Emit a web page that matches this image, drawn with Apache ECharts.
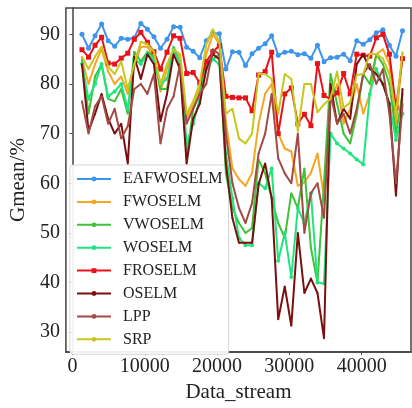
<!DOCTYPE html>
<html><head><meta charset="utf-8">
<script src="https://cdn.jsdelivr.net/npm/echarts@6/dist/echarts.min.js"></script>
<style>html,body{margin:0;padding:0;background:#fff}#c{width:412px;height:408px}</style>
</head><body><div id="c"></div>
<script>
const xs = [1310, 2215, 3120, 4025, 4930, 5835, 6740, 7645, 8550, 9455, 10360, 11265, 12170, 13075, 13980, 14885, 15790, 16695, 17600, 18505, 19410, 20315, 21220, 22125, 23030, 23935, 24840, 25745, 26650, 27555, 28460, 29365, 30270, 31175, 32080, 32985, 33890, 34795, 35700, 36605, 37510, 38415, 39320, 40225, 41130, 42035, 42940, 43845, 44750, 45655];
const seriesNames = ["EAFWOSELM", "FWOSELM", "VWOSELM", "WOSELM", "FROSELM", "OSELM", "LPP", "SRP"];
const EAFWOSELM = [90.0, 87.2, 89.7, 92.1, 88.7, 87.6, 89.2, 89.0, 89.3, 92.2, 91.0, 89.5, 87.2, 89.0, 91.5, 91.4, 87.4, 86.6, 85.3, 88.7, 90.3, 90.1, 83.0, 86.5, 86.4, 83.7, 86.1, 87.2, 88.1, 89.7, 85.8, 86.4, 86.6, 85.9, 86.1, 85.2, 87.8, 84.5, 85.3, 85.4, 86.0, 84.7, 88.7, 88.0, 88.9, 90.3, 90.9, 87.8, 85.6, 90.7];
const FWOSELM = [85.0, 80.0, 84.0, 87.0, 82.5, 80.0, 81.5, 78.0, 83.5, 87.5, 87.5, 85.5, 78.5, 83.0, 86.5, 85.5, 73.0, 76.0, 79.0, 86.0, 90.0, 88.0, 72.5, 63.0, 60.8, 59.5, 62.1, 72.0, 78.0, 80.0, 70.0, 67.0, 66.4, 59.5, 60.2, 62.1, 66.0, 57.2, 76.0, 80.0, 72.0, 75.0, 80.0, 74.0, 78.0, 86.0, 87.0, 84.0, 72.0, 86.0];
const VWOSELM = [85.0, 74.0, 81.5, 84.0, 77.0, 76.5, 79.0, 74.0, 86.5, 84.5, 86.5, 85.5, 79.0, 79.0, 87.5, 84.0, 65.0, 75.0, 78.0, 84.0, 85.0, 86.0, 62.0, 55.0, 52.0, 50.0, 51.0, 64.8, 62.0, 57.0, 52.0, 49.0, 58.0, 55.0, 63.0, 47.0, 40.0, 60.0, 82.0, 76.0, 70.0, 68.0, 74.0, 82.0, 80.0, 86.0, 84.0, 80.0, 70.0, 78.0];
const WOSELM = [84.0, 77.0, 80.0, 84.0, 77.5, 78.5, 80.0, 75.0, 85.0, 84.0, 86.0, 85.0, 80.0, 81.0, 87.0, 84.0, 68.0, 72.0, 77.0, 83.0, 85.0, 84.0, 66.0, 57.0, 49.0, 47.5, 47.5, 60.0, 59.0, 63.0, 44.4, 50.0, 41.1, 55.0, 52.0, 58.0, 40.0, 39.8, 70.0, 68.0, 67.0, 66.0, 64.8, 63.8, 78.0, 83.0, 80.0, 76.0, 68.7, 74.0];
const FROSELM = [86.9, 85.4, 87.8, 89.4, 84.2, 84.0, 85.2, 86.2, 89.0, 90.4, 88.4, 86.5, 83.0, 86.4, 89.7, 89.2, 82.1, 82.3, 80.2, 84.5, 86.5, 87.7, 77.5, 77.3, 77.2, 77.2, 74.6, 81.8, 82.5, 86.4, 70.0, 78.0, 79.2, 72.0, 73.9, 71.6, 84.1, 77.7, 76.9, 78.2, 82.1, 78.0, 86.0, 85.8, 85.6, 89.3, 90.0, 86.0, 75.2, 85.1];
const OSELM = [84.0, 70.5, 74.0, 78.0, 73.0, 70.0, 72.0, 64.0, 85.5, 81.0, 86.0, 84.0, 72.5, 78.0, 86.0, 83.0, 64.0, 73.0, 76.0, 83.0, 86.0, 85.0, 64.0, 53.0, 48.0, 48.0, 48.0, 59.8, 64.0, 57.0, 32.6, 39.2, 31.3, 50.0, 37.9, 40.8, 37.9, 28.8, 80.0, 72.0, 75.0, 73.0, 84.0, 86.0, 83.0, 82.0, 80.0, 76.0, 57.5, 79.0];
const LPP = [76.5, 70.0, 75.5, 77.5, 72.0, 75.0, 69.0, 71.5, 79.0, 80.0, 78.0, 82.0, 68.0, 75.0, 77.5, 84.0, 72.0, 75.0, 78.0, 80.0, 87.0, 86.0, 70.0, 60.0, 55.0, 52.0, 56.0, 66.0, 70.0, 78.0, 65.0, 62.0, 60.0, 70.0, 50.0, 58.0, 60.0, 53.0, 78.0, 72.0, 74.0, 70.0, 75.0, 82.0, 84.0, 80.0, 83.0, 74.0, 60.0, 76.0];
const SRP = [85.5, 83.0, 85.5, 87.5, 83.5, 82.0, 84.5, 79.0, 84.0, 88.5, 88.0, 86.5, 80.0, 84.0, 87.0, 86.0, 74.0, 76.5, 80.0, 88.0, 91.0, 88.5, 74.0, 75.0, 69.0, 68.0, 70.0, 82.0, 82.0, 81.0, 74.0, 82.0, 81.0, 70.5, 80.0, 80.0, 74.3, 75.9, 77.0, 82.5, 75.2, 76.2, 81.8, 82.0, 86.1, 86.0, 85.1, 82.0, 73.9, 86.4];

const values = [EAFWOSELM, FWOSELM, VWOSELM, WOSELM, FROSELM, OSELM, LPP, SRP];
const colors = ['#3d95ec', '#f5a623', '#3fc23a', '#1fe57f', '#e8131a', '#7a0f10', '#a24a45', '#c9c61f'];
const symbols = ['circle', 'circle', 'circle', 'circle', 'rect', 'circle', 'circle', 'circle'];
const symSizes = [5, 2, 2, 4, 5, 2, 2, 2];

const chart = echarts.init(document.getElementById('c'), null, {renderer: 'canvas'});
const font = 'Liberation Serif';
chart.setOption({
  animation: false,
  backgroundColor: '#fff',
  grid: {left: 61, top: 8, right: 1, bottom: 48, show: true, borderColor: '#444', borderWidth: 1.5, backgroundColor: 'transparent'},
  xAxis: {
    type: 'value', min: -914, max: 46830,
    name: 'Data_stream', nameLocation: 'middle', nameGap: 24,
    nameTextStyle: {fontFamily: font, fontSize: 21, color: '#222'},
    axisLine: {show: true, lineStyle: {color: '#444', width: 1.5}},
    axisTick: {show: true, length: 3, lineStyle: {color: '#444'}},
    axisLabel: {fontFamily: font, fontSize: 20, color: '#222', margin: 5, showMinLabel: false, showMaxLabel: false, formatter: v => String(v)},
    splitLine: {show: false}
  },
  yAxis: {
    type: 'value', min: 26, max: 95.3,
    name: 'Gmean/%', nameLocation: 'middle', nameGap: 30,
    nameTextStyle: {fontFamily: font, fontSize: 21, color: '#222'},
    axisLine: {show: true, lineStyle: {color: '#444', width: 1.5}},
    axisTick: {show: true, length: 3, lineStyle: {color: '#444'}},
    axisLabel: {fontFamily: font, fontSize: 20, color: '#222', margin: 6, showMinLabel: false, showMaxLabel: false},
    splitLine: {show: false}
  },
  legend: {
    orient: 'vertical', left: 70, top: 165,
    data: seriesNames,
    itemWidth: 34, itemHeight: 6, itemGap: 6.9,
    padding: [6, 6, 7, 6],
    backgroundColor: 'rgba(255,255,255,0.92)',
    borderColor: '#d8d8d8', borderWidth: 1, borderRadius: 3,
    textStyle: {fontFamily: font, fontSize: 16, color: '#222', padding: [0, 0, 0, 7]}
  },
  series: seriesNames.map((n, k) => ({
    name: n, type: 'line',
    data: xs.map((x, i) => [x, values[k][i]]),
    color: colors[k],
    lineStyle: {width: 2, color: colors[k]},
    symbol: symbols[k], symbolSize: symSizes[k], showSymbol: true,
    itemStyle: {color: colors[k]},
    z: 2 + k
  }))
});
</script></body></html>
